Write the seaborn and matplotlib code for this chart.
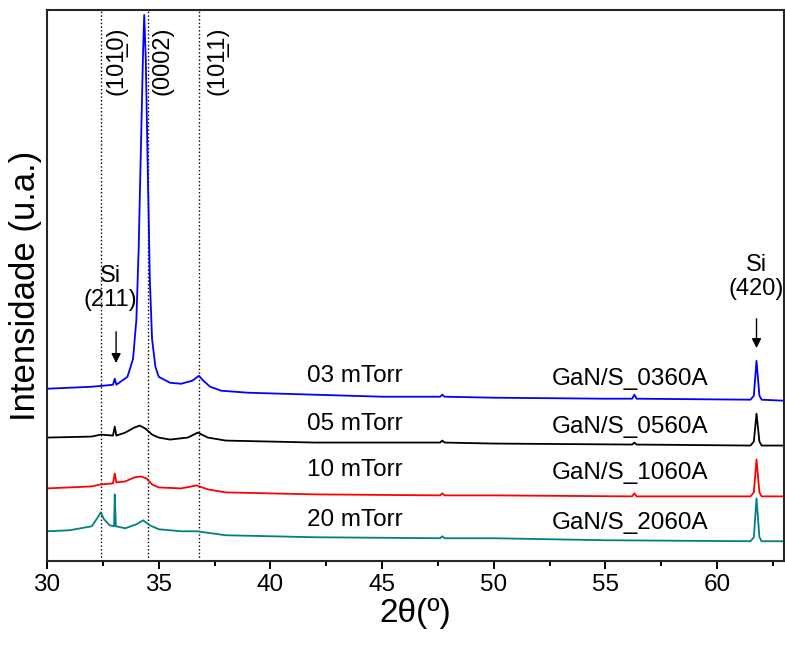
import numpy as np
import pandas as pd
import matplotlib
matplotlib.use("Agg")
import matplotlib.pyplot as plt
import seaborn as sns

# 2theta positions (deg) and intensities (a.u.), one array pair per sample
x_03 = [30.0, 31.0, 32.0, 32.5, 32.95, 33.03, 33.1, 33.6, 33.85, 34.0, 34.1, 34.2, 34.3, 34.35,
        34.42, 34.5, 34.6, 34.7, 34.85, 35.0, 35.5, 36.0, 36.5, 36.8, 37.0, 37.3, 37.8, 39.0,
        42.0, 45.0, 47.6, 47.7, 47.8, 50.0, 55.0, 56.2, 56.3, 56.4, 61.5, 61.65, 61.77, 61.9,
        62.0, 63.0]
y_03 = [173, 174, 175, 176, 177, 183, 177, 185, 203, 243, 313, 413, 513, 548,
        503, 403, 283, 223, 195, 185, 179, 178, 181, 186, 181, 175, 171, 169,
        167, 165, 165, 167, 165, 164, 163, 163, 167, 163, 162, 166, 201, 166,
        162, 161]

x_05 = [30.0, 32.0, 32.4, 32.95, 33.03, 33.1, 33.5, 33.9, 34.15, 34.4, 34.7, 35.0, 35.5, 36.3,
        36.75, 37.2, 38.0, 42.0, 47.6, 47.7, 47.8, 50.0, 56.2, 56.3, 56.4, 61.5, 61.65, 61.77,
        61.9, 62.0, 63.0]
y_05 = [124, 125, 127, 126, 135, 126, 129, 134, 136, 133, 127, 124, 122, 124,
        129, 124, 121, 119, 119, 121, 119, 118, 117, 119, 117, 116, 120, 148,
        120, 116, 116]

x_10 = [30.0, 32.0, 32.4, 32.95, 33.03, 33.1, 33.5, 33.9, 34.2, 34.45, 34.7, 35.0, 36.0, 36.7,
        37.2, 38.0, 42.0, 47.6, 47.7, 47.8, 50.0, 56.2, 56.3, 56.4, 61.5, 61.65, 61.77, 61.9,
        62.0, 63.0]
y_10 = [73, 75, 77, 78, 88, 79, 80, 84, 85, 83, 77, 74, 73, 76,
        72, 69, 67, 66, 68, 66, 66, 65, 68, 65, 65, 69, 102, 69,
        65, 65]

x_20 = [30.0, 31.0, 32.0, 32.3, 32.4, 32.55, 32.8, 33.0, 33.03, 33.08, 33.5, 34.0, 34.3, 34.6,
        35.0, 36.0, 36.7, 38.0, 42.0, 47.6, 47.7, 47.8, 50.0, 55.0, 61.5, 61.65, 61.77, 61.9,
        62.0, 63.0]
y_20 = [30, 31, 35, 45, 49, 42, 36, 35, 67, 35, 33, 37, 41, 36,
        32, 30, 30, 26, 24, 23, 25, 23, 23, 21, 20, 24, 63, 24,
        20, 20]

pressures = ["03 mTorr", "05 mTorr", "10 mTorr", "20 mTorr"]
samples = ["GaN/S_0360A", "GaN/S_0560A", "GaN/S_1060A", "GaN/S_2060A"]
colors = ["#0000ff", "#000000", "#ff0000", "#008080"]
label_y = [186, 138, 91, 41]

# GaN reflections (dotted guides) and Si substrate peaks
gan_pos = [32.4, 34.5, 36.8]
gan_labels = ["(101\u03320)", "(0002)", "(101\u03321)"]
gan_label_x = [33.13, 35.19, 37.61]
si_pos = [33.09, 61.77]
si_labels = ["Si\n(211)", "Si\n(420)"]

sns.set_style("ticks")
plt.rcParams["font.family"] = ["Liberation Sans", "DejaVu Sans"]
plt.rcParams["text.color"] = "black"
plt.rcParams["axes.labelcolor"] = "black"
plt.rcParams["xtick.color"] = "black"

frames = []
for name, xs, ys in zip(pressures, [x_03, x_05, x_10, x_20], [y_03, y_05, y_10, y_20]):
    frames.append(pd.DataFrame({"two_theta": xs, "intensity": ys, "sample": name}))
df = pd.concat(frames, ignore_index=True)

fig = plt.figure(figsize=(7.85, 6.48), dpi=100)
ax = fig.add_axes([0.06, 0.134, 0.9387, 0.8506])

sns.lineplot(data=df, x="two_theta", y="intensity", hue="sample", palette=colors,
             estimator=None, sort=False, legend=False, linewidth=1.3, ax=ax)

for p in gan_pos:
    ax.axvline(p, color="black", linestyle=":", linewidth=1.0, zorder=0)

for lx, lab in zip(gan_label_x, gan_labels):
    ax.text(lx, 502, lab, rotation=90, ha="center", va="center", fontsize=17)

for name, sample, yy in zip(pressures, samples, label_y):
    ax.text(43.8, yy, name, ha="center", va="center", fontsize=17.5)
    ax.text(56.1, yy - 3, sample, ha="center", va="center", fontsize=17.5)

ax.text(32.85, 274, si_labels[0], ha="center", va="center", fontsize=17, linespacing=1.1)
ax.annotate("", xy=(si_pos[0], 196), xytext=(si_pos[0], 233),
            arrowprops=dict(arrowstyle="-|>", color="black", lw=1.0, mutation_scale=14))
ax.text(si_pos[1], 285, si_labels[1], ha="center", va="center", fontsize=17, linespacing=1.1)
ax.annotate("", xy=(si_pos[1], 211), xytext=(si_pos[1], 246),
            arrowprops=dict(arrowstyle="-|>", color="black", lw=1.0, mutation_scale=14))

ax.set_xlim(30, 63)
ax.set_ylim(0, 553)
ax.set_xticks(np.arange(30, 61, 5))
ax.set_xticks(np.arange(32.5, 63, 5), minor=True)
ax.set_yticks([])
ax.tick_params(axis="x", which="major", direction="out", length=6, width=1.4, labelsize=17.5, pad=3)
ax.tick_params(axis="x", which="minor", direction="out", length=3.5, width=1.4)
for s in ax.spines.values():
    s.set_linewidth(1.5)
    s.set_visible(True)

ax.set_xlabel("2\u03b8(\u00ba)", fontsize=24, labelpad=2)
ax.set_ylabel("Intensidade (u.a.)", fontsize=25, labelpad=4)

fig.savefig("out.png", dpi=100)
